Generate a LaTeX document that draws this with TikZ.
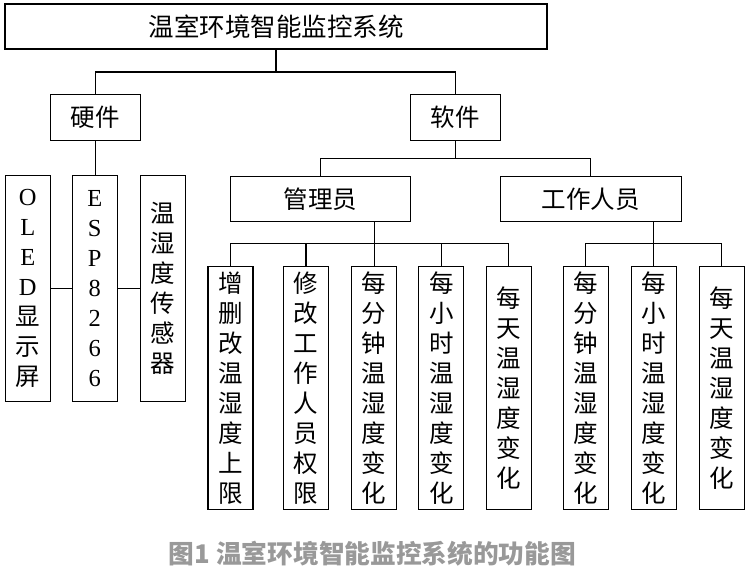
\documentclass[tikz,border=0pt]{standalone}
\usepackage{fontspec}
\setmainfont{Liberation Serif}
\newfontfamily\cjk{Noto Sans CJK SC}
\begin{document}
\begin{tikzpicture}[x=1pt,y=-1pt,line width=1.1pt,
	box/.style={draw,inner sep=0pt,align=center,font=\cjk\fontsize{24.5}{30}\selectfont},
	leaf/.style={box,minimum width=45,minimum height=243}]
	\useasboundingbox (0,0) rectangle (749,574);
	% levels 1 and 2
	\node[box,minimum width=542,minimum height=45,font=\cjk\fontsize{25.5}{30}\selectfont] (top) at (276,26.5) {温室环境智能监控系统};
	\node[box,minimum width=90,minimum height=46] (hw) at (95.3,117.2) {硬件};
	\node[box,minimum width=90,minimum height=46] (sw) at (455.3,117.2) {软件};
	% hardware
	\node[box,minimum width=45,minimum height=226] (oled) at (27.8,288.5) {\rmfamily O\\\rmfamily L\\\rmfamily E\\\rmfamily D\\显\\示\\屏};
	\node[box,minimum width=45,minimum height=226] (esp) at (94.8,288.5) {\rmfamily E\\\rmfamily S\\\rmfamily P\\\rmfamily 8\\\rmfamily 2\\\rmfamily 6\\\rmfamily 6};
	\node[box,minimum width=45,minimum height=226] (sensor) at (162.8,288.5) {温\\湿\\度\\传\\感\\器};
	% software
	\node[box,minimum width=180,minimum height=45] (admin) at (320.3,198.8) {管理员};
	\node[box,minimum width=181,minimum height=45] (staff) at (590.8,198.8) {工作人员};
	\node[leaf] (a1) at (230.5,388.3) {增\\删\\改\\温\\湿\\度\\上\\限};
	\node[leaf] (a2) at (306,388.3) {修\\改\\工\\作\\人\\员\\权\\限};
	\node[leaf] (a3) at (374.2,388.3) {每\\分\\钟\\温\\湿\\度\\变\\化};
	\node[leaf] (a4) at (441.3,388.3) {每\\小\\时\\温\\湿\\度\\变\\化};
	\node[leaf] (a5) at (508.8,388.3) {每\\天\\温\\湿\\度\\变\\化};
	\node[leaf] (s1) at (585.8,388.3) {每\\分\\钟\\温\\湿\\度\\变\\化};
	\node[leaf] (s2) at (653.8,388.3) {每\\小\\时\\温\\湿\\度\\变\\化};
	\node[leaf] (s3) at (721.8,388.3) {每\\天\\温\\湿\\度\\变\\化};
	% buses
	\coordinate (bus1) at (276,72);
	\coordinate (bus2) at (455.3,158.3);
	\coordinate (bus3) at (374.2,243.5);
	\coordinate (bus4) at (653.8,243.5);
	\draw (top.south) -- (bus1);
	\draw (hw.north) |- (bus1) -| (sw.north);
	\draw (hw.south) -- (hw.south |- esp.north);
	\draw (oled.east) -- (esp.west) (esp.east) -- (sensor.west);
	\draw (sw.south) -- (bus2);
	\draw (admin.north) |- (bus2) -| (staff.north);
	\draw (admin.south -| a3.north) -- (a3.north);
	\draw (a1.north) |- (bus3) -| (a5.north);
	\foreach \n in {a2,a4} \draw (\n.north) -- (\n.north |- bus3);
	\draw (staff.south -| s2.north) -- (s2.north);
	\draw (s1.north) |- (bus4) -| (s3.north);
	% caption
	\node[text=black!40,font=\cjk\bfseries\fontsize{25.7}{30}\selectfont] (cap) at (372.5,554) {图1 温室环境智能监控系统的功能图};
\end{tikzpicture}
\end{document}
